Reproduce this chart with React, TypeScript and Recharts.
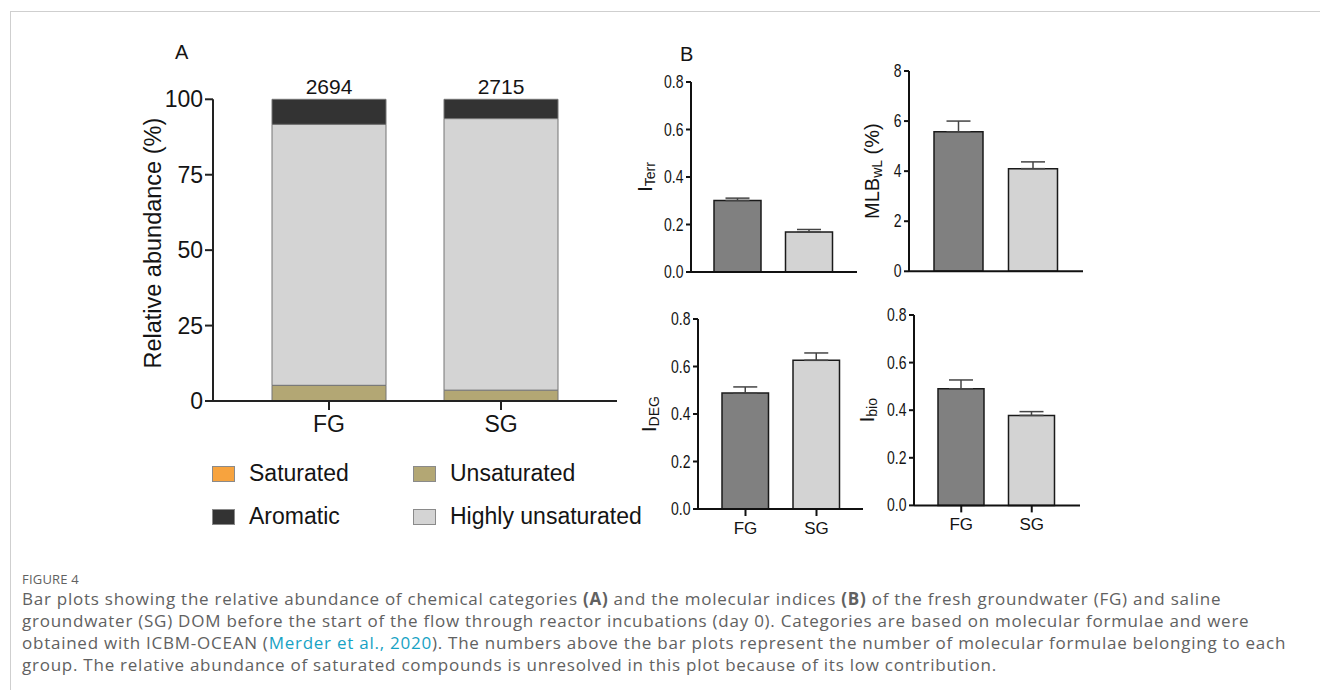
import React from "react";
import { BarChart, Bar, XAxis, YAxis, Cell, ErrorBar, LabelList } from "recharts";

// groups and chemical categories (panel A)
const groups = ["FG", "SG"];
const formulaCounts = [2694, 2715];
const saturated = [0, 0];
const unsaturated = [5.2, 3.6];
const highlyUnsaturated = [86.5, 90.0];
const aromatic = [8.3, 6.4];
const abundanceTicks = [0, 25, 50, 75, 100];

// molecular indices (panel B), mean and upper error
const iTerr = [0.301, 0.168];
const iTerrErr = [0.01, 0.011];
const mlbWl = [5.57, 4.1];
const mlbWlErr = [0.43, 0.27];
const iDeg = [0.488, 0.626];
const iDegErr = [0.026, 0.031];
const iBio = [0.49, 0.378];
const iBioErr = [0.037, 0.016];
const indexTicks = [0, 0.2, 0.4, 0.6, 0.8];
const mlbTicks = [0, 2, 4, 6, 8];

const barColors = ["#808080", "#d3d3d3"];
const FONT = "'Liberation Sans', Arial, sans-serif";
const INK = "#141414";

const categories = [
  { key: "unsaturated", name: "Unsaturated", values: unsaturated, color: "#b3a774" },
  { key: "saturated", name: "Saturated", values: saturated, color: "#f7a33e" },
  { key: "highly", name: "Highly unsaturated", values: highlyUnsaturated, color: "#d4d4d4" },
  { key: "aromatic", name: "Aromatic", values: aromatic, color: "#333333" },
];
const legendRows = [
  ["Saturated", "Unsaturated"],
  ["Aromatic", "Highly unsaturated"],
];

const abundanceData = groups.map((g, i) => {
  const row: any = { group: g, count: formulaCounts[i] };
  categories.forEach((c) => (row[c.key] = c.values[i]));
  return row;
});

function RotLabel({ x, y, size, children }: any) {
  return (
    <text
      x={x}
      y={y}
      transform={`rotate(-90 ${x} ${y})`}
      textAnchor="middle"
      dominantBaseline="central"
      fontSize={size}
      fill={INK}
      fontFamily={FONT}
    >
      {children}
    </text>
  );
}

// condensed tick text for panel B (the original uses a narrow face)
function NarrowTick({ x, y, payload, digits }: any) {
  return (
    <text
      x={x}
      y={y}
      textAnchor="end"
      dominantBaseline="central"
      fontSize={17.5}
      fill={INK}
      fontFamily={FONT}
      transform={`translate(${x} ${y}) scale(0.8 1) translate(${-x} ${-y})`}
    >
      {Number(payload.value).toFixed(digits)}
    </text>
  );
}

function PanelA() {
  const [x0, y0, x1, y1] = [213, 99.3, 617, 401];
  const left = 120;
  const top = 40;
  const w = 520;
  const h = 400;
  const axis = { stroke: "#222", strokeWidth: 2 };
  return (
    <div style={{ position: "absolute", left, top }}>
      <BarChart
        width={w}
        height={h}
        data={abundanceData}
        margin={{ top: y0 - top, right: left + w - x1, left: 0, bottom: 0 }}
      >
        <XAxis
          dataKey="group"
          height={top + h - y1}
          padding={{ left: 30, right: 30 }}
          axisLine={axis}
          tickLine={axis}
          tickSize={9}
          tickMargin={6}
          tick={{ fontSize: 23, fill: INK, fontFamily: FONT }}
        />
        <YAxis
          width={x0 - left}
          domain={[0, 100]}
          ticks={abundanceTicks}
          interval={0}
          axisLine={axis}
          tickLine={axis}
          tickSize={8}
          tickMargin={2}
          tick={{ fontSize: 23, fill: INK, fontFamily: FONT }}
          label={() => (
            <RotLabel x={153 - left} y={(y0 + y1) / 2 - top - 7} size={23.5}>
              Relative abundance (%)
            </RotLabel>
          )}
        />
        {categories.map((c) => (
          <Bar
            key={c.key}
            dataKey={c.key}
            name={c.name}
            stackId="a"
            fill={c.color}
            stroke="#747474"
            strokeWidth={1}
            barSize={114}
            isAnimationActive={false}
          >
            {c.key === "aromatic" && (
              <LabelList
                dataKey="count"
                position="top"
                offset={5}
                style={{ fontSize: 21, fill: INK, fontFamily: FONT }}
              />
            )}
          </Bar>
        ))}
      </BarChart>
      <div style={{ position: "absolute", left: 212 - left, top: 452 - top, fontFamily: FONT }}>
        {legendRows.map((row, r) => (
          <div key={r} style={{ display: "flex", height: 43, alignItems: "center" }}>
            {row.map((name, k) => {
              const c = categories.find((s) => s.name === name)!;
              return (
                <div key={name} style={{ display: "flex", alignItems: "center", width: k === 0 ? 201 : 260 }}>
                  <span
                    style={{
                      width: 21,
                      height: 14,
                      background: c.color,
                      border: "1px solid #8a8a8a",
                      marginRight: 14,
                    }}
                  />
                  <span style={{ fontSize: 23, color: INK }}>{name}</span>
                </div>
              );
            })}
          </div>
        ))}
      </div>
    </div>
  );
}

function IndexPanel({
  plot,
  yAxisW,
  values,
  errs,
  ticks,
  digits,
  pad,
  barSize,
  labelX,
  label,
  showNames,
}: any) {
  const [x0, y0, x1, y1] = plot;
  const mt = 20;
  const mr = 12;
  const xh = 42;
  const left = x0 - yAxisW;
  const top = y0 - mt;
  const w = x1 - left + mr;
  const h = y1 - top + xh;
  const data = groups.map((g, i) => ({ group: g, value: values[i], err: [0, errs[i]] }));
  const axis = { stroke: "#111", strokeWidth: 2 };
  return (
    <div style={{ position: "absolute", left, top }}>
      <BarChart
        width={w}
        height={h}
        data={data}
        margin={{ top: mt, right: mr, left: 0, bottom: 0 }}
        style={{ overflow: "visible" }}
      >
        <XAxis
          dataKey="group"
          height={xh}
          padding={{ left: pad[0], right: pad[1] }}
          axisLine={axis}
          tickLine={axis}
          tickSize={7}
          tickMargin={6}
          tick={showNames ? { fontSize: 17, fill: INK, fontFamily: FONT } : false}
        />
        <YAxis
          width={yAxisW}
          domain={[ticks[0], ticks[ticks.length - 1]]}
          ticks={ticks}
          interval={0}
          axisLine={axis}
          tickLine={axis}
          tickSize={5}
          tickMargin={2.5}
          tick={(p: any) => <NarrowTick {...p} digits={digits} />}
          label={() => (
            <RotLabel x={labelX - left} y={(y0 + y1) / 2 - top} size={20}>
              {label}
            </RotLabel>
          )}
        />
        <Bar dataKey="value" barSize={barSize} stroke="#1a1a1a" strokeWidth={1.5} isAnimationActive={false}>
          {data.map((d, i) => (
            <Cell key={d.group} fill={barColors[i]} />
          ))}
          <ErrorBar dataKey="err" direction="y" width={12} stroke="#444" strokeWidth={1.5} />
        </Bar>
      </BarChart>
    </div>
  );
}

function Sub({ base, sub, tail }: any) {
  return (
    <>
      <tspan>{base}</tspan>
      <tspan dy={5} fontSize={14}>
        {sub}
      </tspan>
      {tail && <tspan dy={-5}>{tail}</tspan>}
    </>
  );
}

const captionLines = [
  [
    "Bar plots showing the relative abundance of chemical categories ",
    <b key="a">(A)</b>,
    " and the molecular indices ",
    <b key="b">(B)</b>,
    " of the fresh groundwater (FG) and saline",
  ],
  [
    "groundwater (SG) DOM before the start of the flow through reactor incubations (day 0). Categories are based on molecular formulae and were",
  ],
  [
    "obtained with ICBM-OCEAN (",
    <span key="l" style={{ color: "#17a2c4" }}>
      Merder et al., 2020
    </span>,
    "). The numbers above the bar plots represent the number of molecular formulae belonging to each",
  ],
  ["group. The relative abundance of saturated compounds is unresolved in this plot because of its low contribution."],
];

export default function App() {
  return (
    <div
      style={{
        position: "absolute",
        left: 0,
        top: 0,
        width: 1320,
        height: 690,
        background: "#fff",
        overflow: "hidden",
        fontFamily: FONT,
      }}
    >
      <div
        style={{
          position: "absolute",
          left: 10,
          top: 11,
          width: 1320,
          height: 700,
          borderTop: "1px solid #cfcfcf",
          borderLeft: "1px solid #cfcfcf",
        }}
      />
      <div style={{ position: "absolute", left: 175, top: 41, fontSize: 20, color: INK }}>A</div>
      <div style={{ position: "absolute", left: 680, top: 43, fontSize: 20, color: INK }}>B</div>
      <PanelA />
      <IndexPanel
        plot={[690.7, 82.3, 856.7, 272.3]}
        yAxisW={70}
        values={iTerr}
        errs={iTerrErr}
        ticks={indexTicks}
        digits={1}
        pad={[11, 12]}
        barSize={47}
        labelX={645}
        label={<Sub base="I" sub="Terr" />}
        showNames={false}
      />
      <IndexPanel
        plot={[908.7, 70.7, 1082.7, 271]}
        yAxisW={65}
        values={mlbWl}
        errs={mlbWlErr}
        ticks={mlbTicks}
        digits={0}
        pad={[12, 13]}
        barSize={49}
        labelX={872}
        label={<Sub base="MLB" sub="wL" tail=" (%)" />}
        showNames={false}
      />
      <IndexPanel
        plot={[697.7, 319.3, 862.7, 509.3]}
        yAxisW={70}
        values={iDeg}
        errs={iDegErr}
        ticks={indexTicks}
        digits={1}
        pad={[12, 11]}
        barSize={46.5}
        labelX={649}
        label={<Sub base="I" sub="DEG" />}
        showNames
      />
      <IndexPanel
        plot={[914, 315.3, 1080, 505.7]}
        yAxisW={70}
        values={iBio}
        errs={iBioErr}
        ticks={indexTicks}
        digits={1}
        pad={[12, 13]}
        barSize={46}
        labelX={867}
        label={<Sub base="I" sub="bio" />}
        showNames
      />
      <div
        style={{
          position: "absolute",
          left: 22,
          top: 570,
          fontFamily: "'Open Sans', sans-serif",
          color: "#616161",
        }}
      >
        <div style={{ fontSize: 13, lineHeight: "18px", letterSpacing: 0.2 }}>FIGURE 4</div>
        {captionLines.map((line, i) => (
          <div key={i} style={{ fontSize: 17, lineHeight: "22px", whiteSpace: "nowrap", letterSpacing: 0.75 }}>
            {line}
          </div>
        ))}
      </div>
    </div>
  );
}
